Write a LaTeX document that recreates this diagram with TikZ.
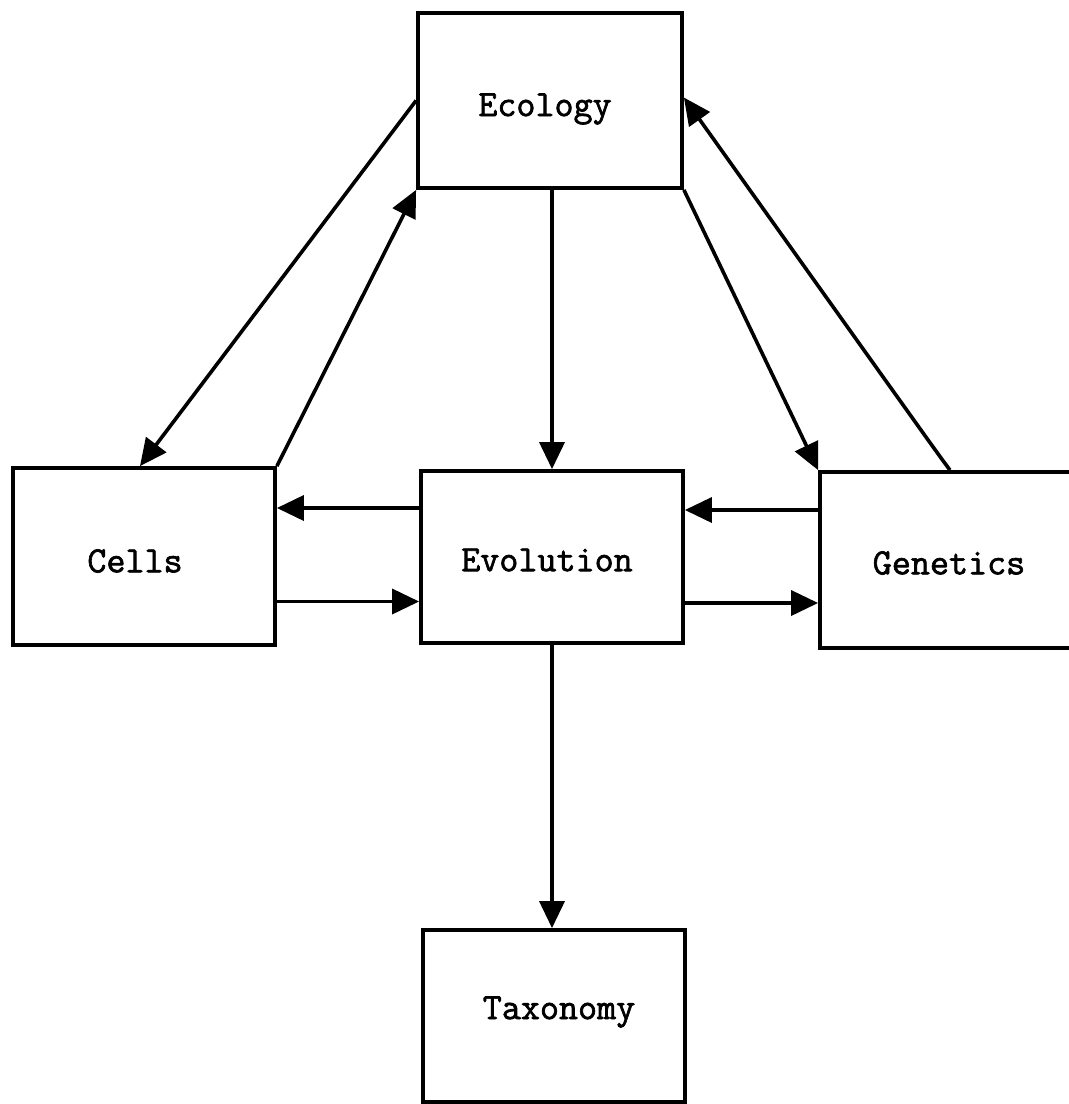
\documentclass[tikz,border=0pt]{standalone}
\usepackage{fontspec}
\newfontfamily\typew[FakeBold=1.8]{Latin Modern Mono}
\usetikzlibrary{arrows.meta,calc}
\begin{document}
\begin{tikzpicture}[x=1pt,y=-1pt,
  box/.style={draw,line width=3.8pt,rectangle,inner sep=0pt},
  caption/.style={inner sep=0pt,font=\typew\fontsize{37}{42}\selectfont},
  arr/.style={line width=3.6pt,-{Triangle[length=27pt,width=25pt]}}]
\useasboundingbox (0,0) rectangle (1069,1104);
\clip (0,0) rectangle (1069,1104);
% subject boxes
\node[box,minimum width=264pt,minimum height=175pt] (eco) at (550,100.5) {};
\node[box,minimum width=262pt,minimum height=177pt] (cells) at (144,556.5) {};
\node[box,minimum width=262pt,minimum height=172pt] (evo) at (552,557) {};
\node[box,minimum width=260pt,minimum height=176pt] (gen) at (950,560) {};
\node[box,minimum width=262pt,minimum height=172pt] (tax) at (554,1016) {};
% box captions
\node[caption] (ecotext) at (545,109) {Ecology};
\node[caption] (cellstext) at (135,561) {Cells};
\node[caption] (evotext) at (547,560) {Evolution};
\node[caption] (gentext) at (949,563) {Genetics};
\node[caption] (taxtext) at (559,1012) {Taxonomy};
% vertical links
\draw[arr] (eco.south -| evo.north) -- (evo.north);
\draw[arr] (evo.south) -- (evo.south |- tax.north);
% horizontal links
\draw[arr] ([yshift=49pt]evo.west) -- ([yshift=49pt]evo.west -| cells.east);
\draw[arr] ([yshift=-45pt]cells.east) -- ([yshift=-45pt]cells.east -| evo.west);
\draw[arr] ([yshift=47pt]evo.east -| gen.west) -- ([yshift=47pt]evo.east);
\draw[arr] ([yshift=-46pt]evo.east) -- ([yshift=-46pt]evo.east -| gen.west);
% diagonal links
\draw[arr] (eco.west) -- ([xshift=-4pt]cells.north);
\draw[arr] (cells.north east) -- (eco.south west);
\draw[arr] (eco.south east) -- (gen.north west);
\draw[arr] (gen.north) .. controls ($(gen.north)+(-12,-16)$) .. ([yshift=3pt]eco.east);
\end{tikzpicture}
\end{document}
